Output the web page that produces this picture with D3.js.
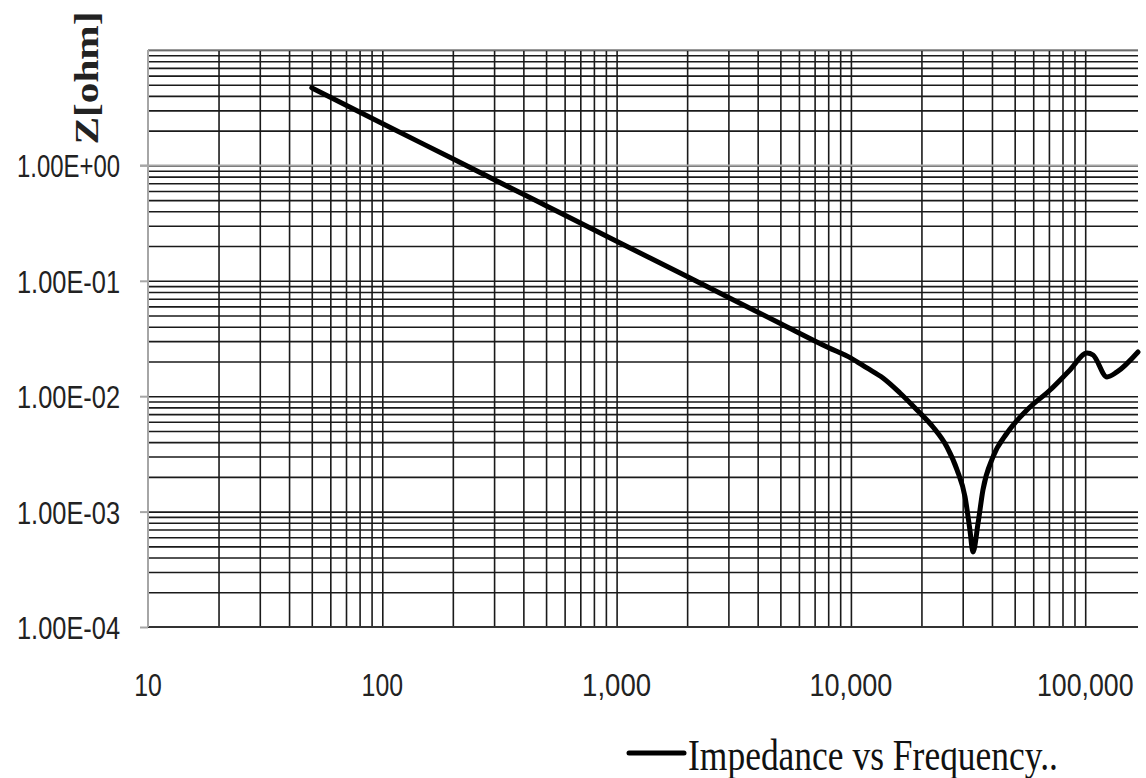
<!DOCTYPE html>
<html lang="en">

<head>
    <meta charset="UTF-8">
    <title>Impedance vs Frequency</title>
    <script src="https://d3js.org/d3.v7.min.js"></script>
    <style>
        body { margin: 0; background: #fff; }
    </style>
</head>

<body>
    <script>
        // data
        var freq = [50, 100, 200, 500, 1000, 2000, 5000, 8000, 10000, 11700, 13700, 16200, 19150,
            22400, 25700, 28400, 30700, 32200, 33200, 34900, 36600, 40400, 46400, 56400,
            70800, 86100, 101800, 108000, 123900, 136700, 168000];
        var imp = [4.7, 2.31, 1.14, 0.447, 0.220, 0.109, 0.0426, 0.0264, 0.0214, 0.01756, 0.01438, 0.01066, 0.00759,
            0.00541, 0.00363, 0.00229, 0.00134, 0.000693, 0.000447, 0.000797, 0.00154, 0.00298, 0.00480, 0.00759,
            0.01132, 0.01687, 0.02368, 0.02275, 0.01467, 0.01622, 0.02415];
        var xTicks = [10, 100, 1000, 10000, 100000];
        var yTicks = [1e-4, 1e-3, 1e-2, 1e-1, 1, 10];
        var yLabelTicks = [1e-4, 1e-3, 1e-2, 1e-1, 1];
        var seriesName = "Impedance vs Frequency..";
        var yTitle = "Z[ohm]";

        // plot area edges (window.top is reserved, so prefixed names)
        var plotLeft = 148, plotRight = 1138, plotTop = 50, plotBottom = 627;

        var svg = d3.select("body")
            .append("svg")
            .attr("width", 1146)
            .attr("height", 778);

        var x = d3.scaleLog().domain([10, 168000]).range([plotLeft, plotRight]);
        var y = d3.scaleLog().domain([1e-4, 10]).range([plotBottom, plotTop]);

        // minor + major grid values
        var xGrid = [];
        xTicks.forEach(function (d) {
            for (var k = 1; k <= 9; k++) {
                var v = d * k;
                if (v > 10 && v <= 168000) xGrid.push(v);
            }
        });
        var yGrid = [];
        yTicks.forEach(function (d) {
            for (var k = 1; k <= 9; k++) {
                var v = d * k;
                if (v <= 10.0001 && v > 1.00001e-4) yGrid.push(v);
            }
        });

        // horizontal grid
        svg.append("g")
            .attr("transform", "translate(" + plotLeft + ",0)")
            .call(d3.axisLeft(y).tickValues(yGrid).tickSize(-(plotRight - plotLeft)).tickFormat(""))
            .call(function (g) {
                g.select(".domain").remove();
                g.selectAll(".tick line")
                    .attr("stroke", "#1a1a1a")
                    .attr("stroke-width", 1.6);
            });

        // vertical grid
        svg.append("g")
            .attr("transform", "translate(0," + plotBottom + ")")
            .call(d3.axisBottom(x).tickValues(xGrid).tickSize(-(plotBottom - plotTop)).tickFormat(""))
            .call(function (g) {
                g.select(".domain").remove();
                g.selectAll(".tick line")
                    .attr("stroke", "#1a1a1a")
                    .attr("stroke-width", 1.6);
            });

        // bottom gridline
        svg.append("line")
            .attr("x1", plotLeft).attr("x2", plotRight)
            .attr("y1", y(1e-4)).attr("y2", y(1e-4))
            .attr("stroke", "#333")
            .attr("stroke-width", 1.8);

        // top border
        svg.append("line")
            .attr("x1", plotLeft).attr("x2", plotRight)
            .attr("y1", y(10)).attr("y2", y(10))
            .attr("stroke", "#8a8a8a")
            .attr("stroke-width", 1.6);

        // horizontal axis crosses at 1
        svg.append("line")
            .attr("x1", plotLeft - 8).attr("x2", plotRight)
            .attr("y1", y(1)).attr("y2", y(1))
            .attr("stroke", "#a6a6a6")
            .attr("stroke-width", 2);

        // y axis
        function sci(v) {
            var e = Math.round(Math.log10(v));
            var s = Math.abs(e) < 10 ? "0" + Math.abs(e) : "" + Math.abs(e);
            return "1.00E" + (e < 0 ? "-" : "+") + s;
        }
        svg.append("g")
            .attr("transform", "translate(" + plotLeft + ",0)")
            .call(d3.axisLeft(y).tickValues(yLabelTicks).tickSize(8).tickFormat(sci))
            .call(function (g) {
                g.select(".domain")
                    .attr("stroke", "#a6a6a6")
                    .attr("stroke-width", 2)
                    .attr("d", "M0," + plotTop + "V" + plotBottom);
                g.selectAll(".tick line")
                    .attr("stroke", "#a6a6a6")
                    .attr("stroke-width", 2);
                g.selectAll(".tick text")
                    .attr("font-family", "'Liberation Sans', Arial, sans-serif")
                    .attr("font-size", 32)
                    .attr("fill", "#222")
                    .attr("x", -28)
                    .attr("dy", "0.36em")
                    .attr("textLength", 103)
                    .attr("lengthAdjust", "spacingAndGlyphs");
            });

        // x labels (low position)
        var fmt = d3.format(",");
        svg.append("g")
            .selectAll("text")
            .data(xTicks)
            .join("text")
            .attr("x", function (d) { return x(d); })
            .attr("y", 696)
            .attr("text-anchor", "middle")
            .attr("font-family", "'Liberation Sans', Arial, sans-serif")
            .attr("font-size", 32)
            .attr("fill", "#222")
            .attr("textLength", function (d) { return fmt(d).length * 13.8; })
            .attr("lengthAdjust", "spacingAndGlyphs")
            .text(function (d) { return fmt(d); });

        // y title
        svg.append("text")
            .attr("transform", "translate(98,78) rotate(-90)")
            .attr("text-anchor", "middle")
            .attr("font-family", "'Liberation Serif', 'Times New Roman', serif")
            .attr("font-weight", "bold")
            .attr("font-size", 34)
            .attr("fill", "#222")
            .attr("textLength", 133)
            .attr("lengthAdjust", "spacingAndGlyphs")
            .text(yTitle);

        // series
        var pts = freq.map(function (f, i) { return { f: f, z: imp[i] }; });
        var line = d3.line()
            .x(function (d) { return x(d.f); })
            .y(function (d) { return y(d.z); })
            .curve(d3.curveMonotoneX);

        svg.append("path")
            .datum(pts)
            .attr("d", line)
            .attr("fill", "none")
            .attr("stroke", "#000")
            .attr("stroke-width", 5)
            .attr("stroke-linecap", "round")
            .attr("stroke-linejoin", "round");

        // legend
        svg.append("line")
            .attr("x1", 629).attr("x2", 684)
            .attr("y1", 753).attr("y2", 753)
            .attr("stroke", "#000")
            .attr("stroke-width", 5)
            .attr("stroke-linecap", "round");
        svg.append("text")
            .attr("x", 688)
            .attr("y", 770)
            .attr("font-family", "'Liberation Serif', 'Times New Roman', serif")
            .attr("font-size", 44)
            .attr("fill", "#111")
            .attr("textLength", 370)
            .attr("lengthAdjust", "spacingAndGlyphs")
            .text(seriesName);
    </script>
</body>

</html>
